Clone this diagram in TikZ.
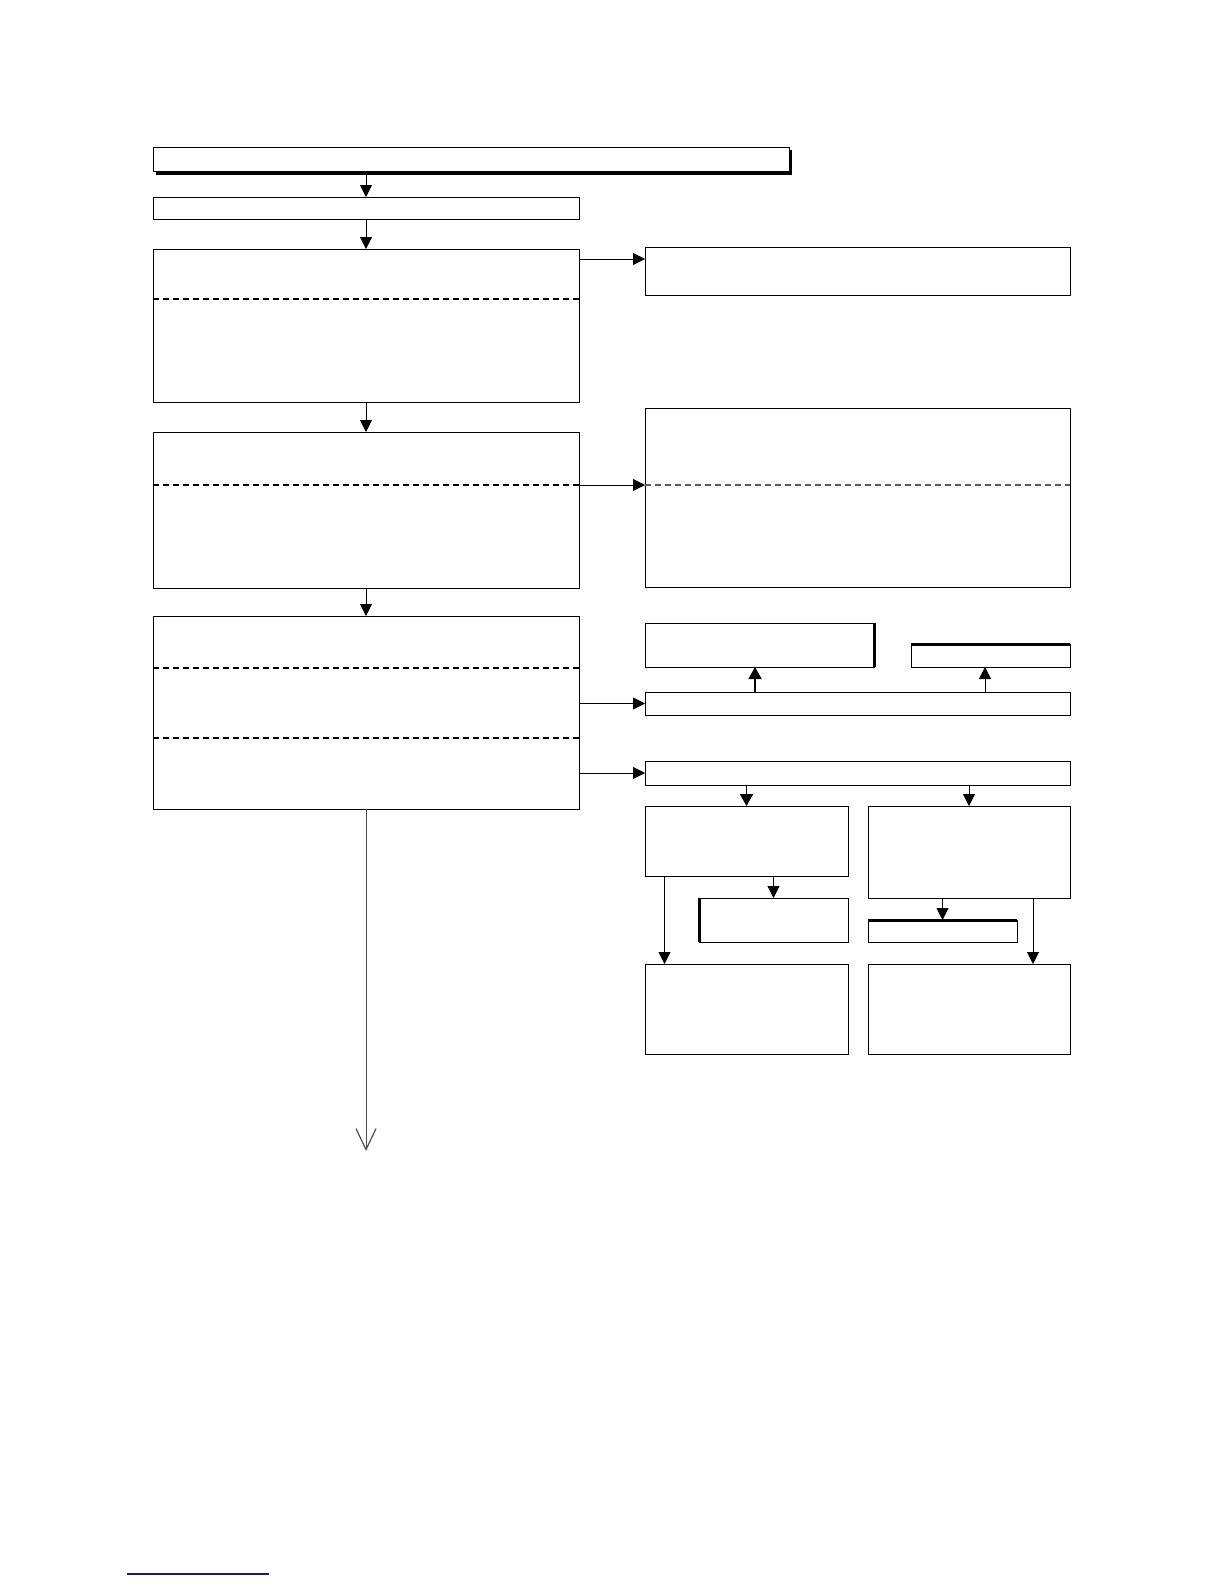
\documentclass[tikz,border=0pt]{standalone}
\usetikzlibrary{arrows.meta,calc}
\begin{document}
\begin{tikzpicture}[x=1pt,y=-1pt,
  box/.style={draw,line width=1pt,inner sep=0pt,outer sep=0pt,anchor=north west},
  arr/.style={line width=0.9pt,-{Triangle[length=12pt,width=12pt]}},
  arrthick/.style={line width=1.8pt,-{Triangle[length=12pt,width=13pt]}},
  divider/.style={line width=1.1pt,dash pattern=on 6pt off 4pt},
  thickedge/.style={line width=3pt}]
\useasboundingbox (0,0) rectangle (1224,1584);
% left column
\node[box,minimum width=636pt,minimum height=24pt] (top) at (153,147) {};
\fill ($(top.south west)+(3,0)$) rectangle ($(top.south east)+(3,4)$);
\fill ($(top.north east)+(0,3)$) rectangle ($(top.south east)+(3,4)$);
\node[box,minimum width=426pt,minimum height=22pt] (b2) at (153,197) {};
\node[box,minimum width=426pt,minimum height=153pt] (b3) at (153,249) {};
\draw[divider] ($(b3.north west)+(0,50)$) -- ($(b3.north east)+(0,50)$);
\node[box,minimum width=426pt,minimum height=156pt] (b4) at (153,432) {};
\draw[divider] ($(b4.north west)+(0,53)$) -- ($(b4.north east)+(0,53)$);
\node[box,minimum width=426pt,minimum height=193pt] (b5) at (153,616) {};
\draw[divider,line width=1.7pt] ($(b5.north west)+(0,52)$) -- ($(b5.north east)+(0,52)$);
\draw[divider] ($(b5.north west)+(0,122)$) -- ($(b5.north east)+(0,122)$);
% right column
\node[box,minimum width=425pt,minimum height=48pt] (r1) at (645,247) {};
\node[box,minimum width=425pt,minimum height=179pt] (r2) at (645,408) {};
\draw[divider,draw=black!65] ($(r2.north west)+(0,77)$) -- ($(r2.north east)+(0,77)$);
\node[box,minimum width=229pt,minimum height=44pt] (a) at (645,623) {};
\draw[thickedge] (a.north east) -- (a.south east);
\node[box,minimum width=159pt,minimum height=23pt] (bb) at (911,644) {};
\draw[thickedge] (bb.north west) -- (bb.north east);
\node[box,minimum width=425pt,minimum height=23pt] (r3) at (645,692) {};
\node[box,minimum width=425pt,minimum height=24pt] (r4) at (645,761) {};
\node[box,minimum width=203pt,minimum height=70pt] (c) at (645,806) {};
\node[box,minimum width=202pt,minimum height=92pt] (d) at (868,806) {};
\node[box,minimum width=149pt,minimum height=44pt] (e) at (699,898) {};
\draw[thickedge] (e.north west) -- (e.south west);
\node[box,minimum width=149pt,minimum height=22pt] (g) at (868,920) {};
\draw[thickedge] (g.north west) -- (g.north east);
\node[box,minimum width=203pt,minimum height=90pt] (f) at (645,964) {};
\node[box,minimum width=202pt,minimum height=90pt] (h) at (868,964) {};
% connectors
\draw[arr] (b2.north |- top.south) -- (b2.north);
\draw[arr] (b2.south) -- (b3.north);
\draw[arr] (b3.south) -- (b4.north);
\draw[arr] (b4.south) -- (b5.north);
\draw[arr] ($(b3.north east)+(0,10)$) coordinate (p1) -- (p1 -| r1.west);
\draw[arr] ($(b4.north east)+(0,53)$) coordinate (p2) -- (p2 -| r2.west);
\draw[arr] (r3.west -| b5.east) -- (r3.west);
\draw[arr] (r4.west -| b5.east) -- (r4.west);
\draw[arrthick] ($(r3.north west)+(110,0)$) coordinate (q1) -- (q1 |- a.south);
\draw[arr] ($(r3.north west)+(340,0)$) coordinate (q2) -- (q2 |- bb.south);
\draw[arrthick] (c.north |- r4.south) -- (c.north);
\draw[arr] (d.north |- r4.south) -- (d.north);
\draw[arr] (e.north |- c.south) -- (e.north);
\draw[arr] ($(c.south west)+(19.5,0)$) coordinate (q3) -- (q3 |- f.north);
\draw[arr] (g.north |- d.south) -- (g.north);
\draw[arr] ($(d.south west)+(165,0)$) coordinate (q4) -- (q4 |- h.north);
\coordinate (down) at (366,1151);
\draw[line width=1pt,draw=black!70,-{Straight Barb[length=21pt,width=20pt,line width=1.2pt]}] (b5.south) -- (down);
% bottom link rule
\draw[line width=1.3pt,draw={rgb,255:red,20;green,20;blue,150}] (127,1574) -- (269,1574);
\end{tikzpicture}
\end{document}
